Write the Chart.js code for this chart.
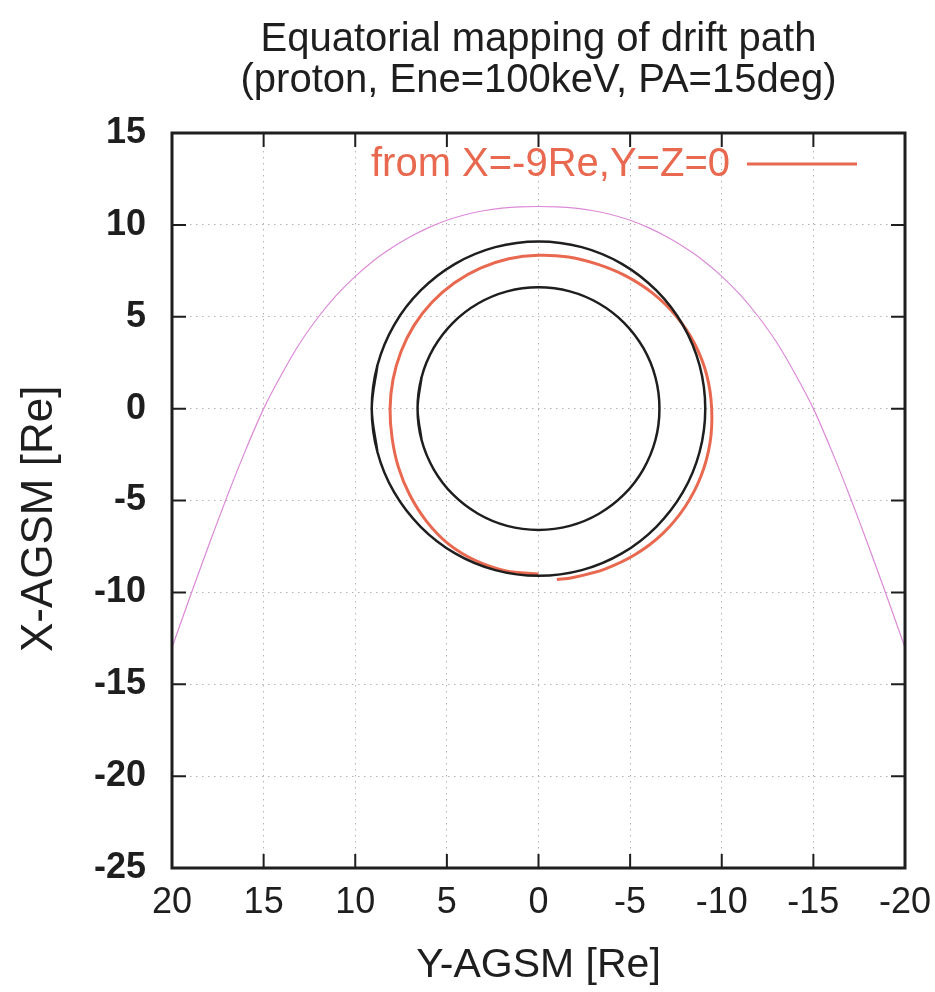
<!DOCTYPE html>
<html>
<head>
<meta charset="utf-8">
<script src="https://cdn.jsdelivr.net/npm/chart.js@4.4.0/dist/chart.umd.min.js"></script>
<style>
  html, body { margin: 0; padding: 0; background: #fff; }
  #wrap { width: 935px; height: 992px; }
</style>
</head>
<body>
<div id="wrap"><canvas id="drift" width="935" height="992"></canvas></div>
<script>
// Y-AGSM goes on the horizontal axis, X-AGSM on the vertical one (Re)
const xTicks = [20, 15, 10, 5, 0, -5, -10, -15, -20];
const yTicks = [15, 10, 5, 0, -5, -10, -15, -20, -25];

// magenta boundary
const boundaryY = [20, 19, 18, 17, 16, 15, 14, 13, 12, 11, 10, 9, 8, 7, 6, 5, 4, 3, 2, 1, 0,
  -1, -2, -3, -4, -5, -6, -7, -8, -9, -10, -11, -12, -13, -14, -15, -16, -17, -18, -19, -20];
const boundaryX = [-13.0, -10.2, -7.45, -4.8, -2.3, 0.0, 1.9, 3.6, 5.0, 6.2, 7.2, 8.05, 8.75, 9.35, 9.85, 10.25, 10.55, 10.77, 10.91, 10.98, 11.0,
  10.98, 10.91, 10.77, 10.55, 10.25, 9.85, 9.35, 8.75, 8.05, 7.2, 6.2, 5.0, 3.6, 1.9, 0.0, -2.3, -4.8, -7.45, -10.2, -13.0];

// black reference circles (first and last points overlap so the join is smooth)
const outerY = [8.79, 9.10, 8.79, 7.88, 6.43, 4.55, 2.36, 0, -2.36, -4.55, -6.43, -7.88, -8.79, -9.10,
  -8.79, -7.88, -6.43, -4.55, -2.36, 0, 2.36, 4.55, 6.43, 7.88, 8.79, 9.10, 8.79];
const outerX = [-2.36, 0, 2.36, 4.55, 6.43, 7.88, 8.79, 9.10, 8.79, 7.88, 6.43, 4.55, 2.36, 0,
  -2.36, -4.55, -6.43, -7.88, -8.79, -9.10, -8.79, -7.88, -6.43, -4.55, -2.36, 0, 2.36];
const innerY = [6.38, 6.60, 6.38, 5.72, 4.67, 3.30, 1.71, 0, -1.71, -3.30, -4.67, -5.72, -6.38, -6.60,
  -6.38, -5.72, -4.67, -3.30, -1.71, 0, 1.71, 3.30, 4.67, 5.72, 6.38, 6.60, 6.38];
const innerX = [-1.71, 0, 1.71, 3.30, 4.67, 5.72, 6.38, 6.60, 6.38, 5.72, 4.67, 3.30, 1.71, 0,
  -1.71, -3.30, -4.67, -5.72, -6.38, -6.60, -6.38, -5.72, -4.67, -3.30, -1.71, 0, 1.71];

// drift path of the proton, starting at midnight and going round through dusk
const driftLabel = 'from X=-9Re,Y=Z=0';
const driftY = [0, 1.76, 3.43, 4.92, 6.12, 7.03, 7.65, 7.99, 8.1, 7.94, 7.50, 6.79, 5.80, 4.58, 3.17, 1.62, 0,
  -1.64, -3.25, -4.81, -6.26, -7.52, -8.52, -9.18, -9.45, -9.36, -8.87, -8.00, -6.79, -5.30, -3.62, -1.83, -1.0];
const driftX = [-9.0, -8.83, -8.27, -7.36, -6.12, -4.69, -3.17, -1.59, 0, 1.58, 3.11, 4.53, 5.80, 6.85, 7.65, 8.16, 8.35,
  8.25, 7.85, 7.20, 6.26, 5.03, 3.53, 1.83, 0, -1.86, -3.67, -5.34, -6.79, -7.93, -8.73, -9.20, -9.30];

const ORANGE = '#e8694f';
const INK = '#1e1e1e';

const pts = (ys, xs) => ys.map((v, i) => ({x: v, y: xs[i]}));

const frame = {
    id: 'frame',
    afterDatasetsDraw(chart) {
        const {ctx, chartArea: a, scales} = chart;
        ctx.save();
        ctx.strokeStyle = INK;
        ctx.lineWidth = 2;
        ctx.beginPath();
        xTicks.forEach(v => {
            const px = scales.x.getPixelForValue(v);
            ctx.moveTo(px, a.bottom); ctx.lineTo(px, a.bottom - 14);
            ctx.moveTo(px, a.top); ctx.lineTo(px, a.top + 14);
        });
        yTicks.forEach(v => {
            const py = scales.y.getPixelForValue(v);
            ctx.moveTo(a.left, py); ctx.lineTo(a.left + 14, py);
            ctx.moveTo(a.right, py); ctx.lineTo(a.right - 14, py);
        });
        ctx.stroke();
        ctx.lineWidth = 3;
        ctx.strokeRect(a.left, a.top, a.right - a.left, a.bottom - a.top);

        // key, gnuplot style: text then line sample
        const ly = a.top + 32;
        ctx.fillStyle = ORANGE;
        ctx.font = '40px "Liberation Sans", Arial, sans-serif';
        ctx.textAlign = 'right';
        ctx.textBaseline = 'middle';
        ctx.fillText(driftLabel, a.right - 175, ly);
        ctx.strokeStyle = ORANGE;
        ctx.lineWidth = 3;
        ctx.beginPath();
        ctx.moveTo(a.right - 158, ly - 1);
        ctx.lineTo(a.right - 48, ly - 1);
        ctx.stroke();
        ctx.restore();
    }
};

Chart.defaults.font.family = '"Liberation Sans", Arial, sans-serif';
Chart.defaults.color = INK;

new Chart(document.getElementById('drift'), {
    type: 'scatter',
    data: {
        datasets: [
            {
                label: 'boundary',
                data: pts(boundaryY, boundaryX),
                showLine: true, pointRadius: 0,
                borderColor: '#dc8ad8', borderWidth: 1.2, tension: 0.3
            },
            {
                label: 'outer',
                data: pts(outerY, outerX),
                showLine: true, pointRadius: 0,
                borderColor: INK, borderWidth: 2.5, tension: 0.34
            },
            {
                label: 'inner',
                data: pts(innerY, innerX),
                showLine: true, pointRadius: 0,
                borderColor: INK, borderWidth: 2.5, tension: 0.34
            },
            {
                label: driftLabel,
                data: pts(driftY, driftX),
                showLine: true, pointRadius: 0,
                borderColor: ORANGE, borderWidth: 3, tension: 0.34
            }
        ]
    },
    options: {
        responsive: false,
        animation: false,
        layout: {padding: {left: 0, right: 30, top: 0, bottom: 0}},
        plugins: {
            legend: {display: false},
            tooltip: {enabled: false},
            title: {
                display: true,
                fullSize: false,
                text: ['Equatorial mapping of drift path', '(proton, Ene=100keV, PA=15deg)'],
                font: {size: 40, weight: 'normal', lineHeight: 1.025},
                color: INK,
                padding: {top: 19, bottom: 32}
            }
        },
        scales: {
            x: {
                type: 'linear', min: -20, max: 20, reverse: true,
                afterFit: s => { s.height = 124; s.paddingLeft = 0; s.paddingRight = 0; },
                afterBuildTicks: s => { s.ticks = xTicks.map(v => ({value: v})); },
                ticks: {font: {size: 36, lineHeight: 1}, padding: 17, color: INK, maxRotation: 0},
                grid: {color: '#b4b4b4', lineWidth: 1, drawTicks: false},
                border: {display: false, dash: [1.5, 4.5]},
                title: {display: true, text: 'Y-AGSM [Re]', font: {size: 41, lineHeight: 1}, padding: {bottom: 6}, color: INK}
            },
            y: {
                type: 'linear', min: -25, max: 15,
                afterFit: s => { s.width = 172; s.paddingTop = 0; s.paddingBottom = 0; },
                afterBuildTicks: s => { s.ticks = yTicks.map(v => ({value: v})); },
                ticks: {font: {size: 36, weight: 'bold', lineHeight: 1}, padding: 26, color: INK},
                grid: {color: '#b4b4b4', lineWidth: 1, drawTicks: false},
                border: {display: false, dash: [1.5, 4.5]},
                title: {display: true, text: 'X-AGSM [Re]   ', font: {size: 44, lineHeight: 1}, padding: {top: 18}, color: INK}
            }
        }
    },
    plugins: [frame]
});
</script>
</body>
</html>
